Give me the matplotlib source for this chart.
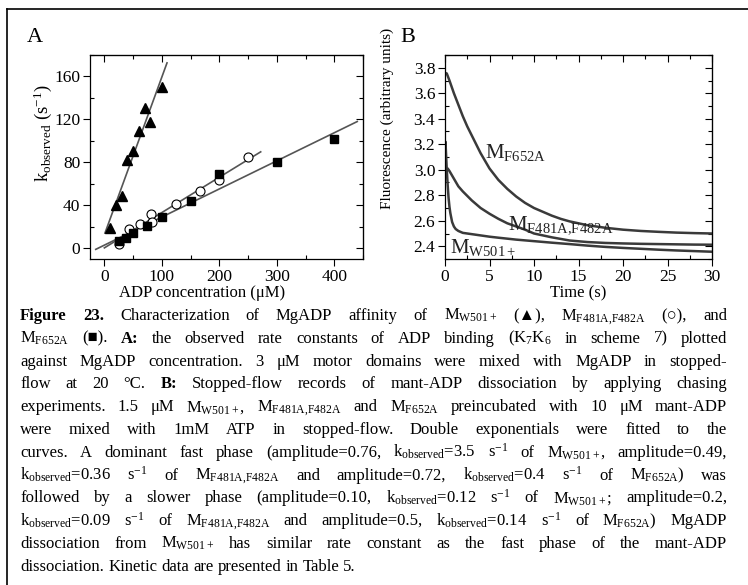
import numpy as np
import matplotlib.pyplot as plt
from matplotlib.lines import Line2D
from matplotlib.ticker import MultipleLocator

plt.rcParams['font.family'] = ['Liberation Serif', 'DejaVu Sans']
plt.rcParams['mathtext.fontset'] = 'custom'
plt.rcParams['mathtext.rm'] = 'Liberation Serif'
plt.rcParams['mathtext.it'] = 'Liberation Serif:italic'
plt.rcParams['mathtext.bf'] = 'Liberation Serif:bold'

# --- panel A: k_observed vs ADP concentration
tri_x = [10, 20, 30, 40, 50, 60, 70, 80, 100]
tri_y = [19, 40, 49, 82, 91, 109, 131, 118, 150]
circ_x = [25, 42, 62, 82, 83, 125, 167, 200, 250]
circ_y = [4, 18, 23, 32, 24, 41, 53, 64, 85]
sq_x = [25, 37, 50, 75, 100, 150, 200, 300, 400]
sq_y = [7, 10, 14, 21, 29, 44, 69, 80, 102]
# x span of each drawn linear fit
tri_fit_span = [1, 109]
circ_fit_span = [0, 272]
sq_fit_span = [-15, 440]

# --- panel B: mant-ADP chase traces
t_w501 = [0, 0.05, 0.1, 0.2, 0.3, 0.4, 0.5, 0.6, 0.8, 1.0, 1.2, 1.5, 2, 3, 4, 5, 6, 8,
          10, 12, 14, 16, 18, 20, 22, 24, 26, 28, 30]
f_w501 = [3.05, 3.22, 3.15, 3.00, 2.88, 2.78, 2.71, 2.66, 2.59, 2.555, 2.535, 2.52, 2.505,
          2.495, 2.485, 2.475, 2.467, 2.452, 2.44, 2.428, 2.417, 2.405, 2.395, 2.387,
          2.38, 2.373, 2.367, 2.362, 2.357]
t_f481 = [0, 0.3, 0.5, 1, 1.5, 2, 3, 4, 5, 6, 7, 8, 9, 10, 12, 14, 16, 18, 20, 22, 25,
          28, 30]
f_f481 = [2.98, 3.01, 2.99, 2.93, 2.87, 2.83, 2.76, 2.70, 2.655, 2.615, 2.58, 2.555,
          2.53, 2.50, 2.47, 2.445, 2.433, 2.426, 2.422, 2.419, 2.416, 2.413, 2.412]
t_f652 = [0, 0.2, 0.5, 1, 1.5, 2, 2.5, 3, 3.5, 4, 4.5, 5, 6, 7, 8, 9, 10, 11, 12, 13, 14,
          16, 18, 20, 22, 24, 26, 28, 30]
f_f652 = [3.76, 3.755, 3.70, 3.60, 3.51, 3.42, 3.34, 3.27, 3.20, 3.13, 3.07, 3.01, 2.92,
          2.85, 2.79, 2.74, 2.70, 2.67, 2.64, 2.615, 2.595, 2.565, 2.545, 2.53, 2.52,
          2.513, 2.507, 2.503, 2.50]

MW = r"M$_{\mathregular{W501+}}$"
MF48 = r"M$_{\mathregular{F481A{,}F482A}}$"
MF65 = r"M$_{\mathregular{F652A}}$"
KOBS = r"k$_{\mathregular{observed}}$"
SM1 = r"s$^{\mathregular{-1}}$"
K7K6 = r"K$_{\mathregular{7}}$K$_{\mathregular{6}}$"

caption_lines = [
    "*Figure *23. Characterization of MgADP affinity of <MW> (▲), <MF48> (○), and",
    "<MF65> (■). *A: the observed rate constants of ADP binding (<K7K6> in scheme 7) plotted",
    "against MgADP concentration. 3 μM motor domains were mixed with MgADP in stopped-",
    "flow at 20 °C. *B: Stopped-flow records of mant-ADP dissociation by applying chasing",
    "experiments. 1.5 μM <MW>, <MF48> and <MF65> preincubated with 10 μM mant-ADP",
    "were mixed with 1mM ATP in stopped-flow. Double exponentials were fitted to the",
    "curves. A dominant fast phase (amplitude=0.76, <K>=3.5 <S1> of <MW>, amplitude=0.49,",
    "<K>=0.36 <S1> of <MF48> and amplitude=0.72, <K>=0.4 <S1> of <MF65>) was",
    "followed by a slower phase (amplitude=0.10, <K>=0.12 <S1> of <MW>; amplitude=0.2,",
    "<K>=0.09 <S1> of <MF48> and amplitude=0.5, <K>=0.14 <S1> of <MF65>) MgADP",
    "dissociation from <MW> has similar rate constant as the fast phase of the mant-ADP",
    "dissociation. Kinetic data are presented in Table 5.",
]
subs = {"<MW>": MW, "<MF48>": MF48, "<MF65>": MF65, "<K>": KOBS, "<S1>": SM1, "<K7K6>": K7K6}

W, H = 748, 585
fig = plt.figure(figsize=(W / 100, H / 100), dpi=100)

# frame lines around the figure
fig.add_artist(Line2D([7 / W, 7 / W], [0, 1 - 9 / H], color='black', lw=1.2))
fig.add_artist(Line2D([7 / W, 1], [1 - 9 / H, 1 - 9 / H], color='black', lw=1.2))

line_col = '#555555'
curve_col = '#3a3a3a'


def style_axes(ax, xmaj, xmin, ymaj, ymin):
    # left/bottom: major ticks out, minor ticks in
    ax.xaxis.set_major_locator(MultipleLocator(xmaj))
    ax.xaxis.set_minor_locator(MultipleLocator(xmin))
    ax.yaxis.set_major_locator(MultipleLocator(ymaj))
    ax.yaxis.set_minor_locator(MultipleLocator(ymin))
    ax.tick_params(which='major', direction='out', length=5, width=0.8, labelsize=12.5,
                   pad=2)
    ax.tick_params(which='minor', direction='in', length=3, width=0.8)
    for s in ax.spines.values():
        s.set_linewidth(0.9)
    # top/right: mirrored ticks pointing inward, no labels
    top = ax.secondary_xaxis('top')
    right = ax.secondary_yaxis('right')
    for sec, axis in ((top, top.xaxis), (right, right.yaxis)):
        axis.set_major_locator(MultipleLocator(xmaj if sec is top else ymaj))
        axis.set_minor_locator(MultipleLocator(xmin if sec is top else ymin))
        sec.tick_params(which='both', direction='in', width=0.8, labeltop=False,
                        labelright=False)
        sec.tick_params(which='major', length=5)
        sec.tick_params(which='minor', length=3)


# panel A
axA = fig.add_axes([90 / W, 1 - 259 / H, 273 / W, 204 / H])
for xs, ys, span in [(tri_x, tri_y, tri_fit_span), (circ_x, circ_y, circ_fit_span),
                     (sq_x, sq_y, sq_fit_span)]:
    coef = np.polyfit(xs, ys, 1)
    axA.plot(span, np.polyval(coef, span), color=line_col, lw=1.2, zorder=2)
axA.plot(tri_x, tri_y, '^', color='black', ms=7, zorder=3)
axA.plot(circ_x, circ_y, 'o', mfc='white', mec='black', mew=0.8, ms=6.5, zorder=3)
axA.plot(sq_x, sq_y, 's', color='black', ms=5.5, zorder=3)
axA.set_xlim(-25, 450)
axA.set_ylim(-10, 180)
style_axes(axA, 100, 50, 40, 20)

# panel B
axB = fig.add_axes([445 / W, 1 - 259 / H, 267 / W, 204 / H])
axB.plot(t_f652, f_f652, color=curve_col, lw=1.8)
axB.plot(t_f481, f_f481, color=curve_col, lw=1.8)
axB.plot(t_w501, f_w501, color=curve_col, lw=1.8)
axB.set_xlim(0, 30)
axB.set_ylim(2.3, 3.9)
style_axes(axB, 5, 2.5, 0.2, 0.1)
axB.yaxis.set_major_formatter(plt.FormatStrFormatter('%.1f'))
axB.text(4.5, 3.09, MF65, fontsize=15, color='#222222')
axB.text(7.05, 2.53, MF48, fontsize=15, color='#222222')
axB.text(0.55, 2.35, MW, fontsize=15, color='#222222')

# panel letters and axis labels
fig.text(27 / W, 1 - 42 / H, 'A', fontsize=16)
fig.text(400 / W, 1 - 42 / H, 'B', fontsize=16)
fig.text(43 / W, 1 - 133 / H, KOBS + r" (s$^{\mathregular{-1}}$)", fontsize=13.5,
         rotation=90, ha='center', va='center')
fig.text(387 / W, 1 - 118 / H, 'Fluorescence (arbitrary units)', fontsize=11,
         rotation=90, ha='center', va='center')
fig.text(202 / W, 1 - 293 / H, 'ADP concentration (μM)', fontsize=12,
         ha='center', va='center')
fig.text(578 / W, 1 - 293 / H, 'Time (s)', fontsize=12, ha='center', va='center')

# caption, justified line by line
cap_size = 12
cap_left, cap_right = 20, 727
cap_base0, cap_step = 320, 22.8
fig.canvas.draw()
renderer = fig.canvas.get_renderer()
space = 0.25 * cap_size * 100 / 72
for i, line in enumerate(caption_lines):
    for k, v in subs.items():
        line = line.replace(k, v)
    words = line.split(' ')
    texts = []
    for w in words:
        bold = w.startswith('*')
        s = w[1:] if bold else w
        texts.append(fig.text(0, 1 - (cap_base0 + i * cap_step) / H, s, fontsize=cap_size,
                              fontweight='bold' if bold else 'normal',
                              ha='left', va='baseline'))
    widths = [t.get_window_extent(renderer).width for t in texts]
    if i < len(caption_lines) - 1:
        gap = (cap_right - cap_left - sum(widths)) / (len(words) - 1)
    else:
        gap = space
    x = cap_left
    for t, w in zip(texts, widths):
        t.set_x(x / W)
        x += w + gap

fig.savefig('out.png', dpi=100)
